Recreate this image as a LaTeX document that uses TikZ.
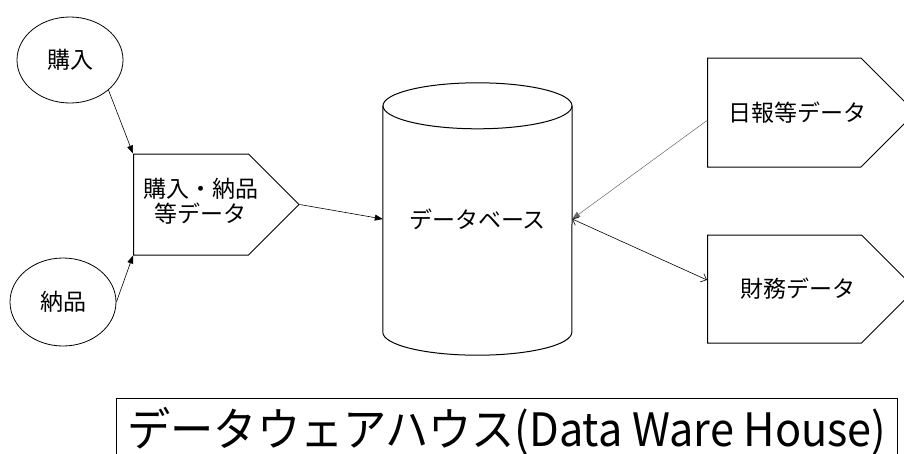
\documentclass[tikz,border=0pt]{standalone}
\usepackage{fontspec}
\setmainfont{Noto Sans CJK JP}
\usepackage{tikz}
\usetikzlibrary{arrows.meta,shapes.geometric,shapes.symbols}
% move the text right inside a signal, without changing its box
\newcommand{\pushr}[2]{\hspace*{#1}#2\hspace*{-#1}}

\tikzset{
	lbl/.style={font=\fontsize{23}{27}\selectfont},
	src/.style={ellipse, draw, line width=0.8pt, inner sep=0pt, lbl},
	datashape/.style={signal, signal to=east, draw, line width=1pt, inner sep=0pt, lbl, anchor=west},
	arr/.style={-{Triangle[length=8pt,width=6pt]}, line width=0.6pt},
	barb/.style={{Straight Barb[length=5pt,width=9pt]}-{Straight Barb[length=5pt,width=9pt]}, line width=0.6pt},
}

\begin{document}
\begin{tikzpicture}[x=1pt,y=-1pt]
	%%%%% START %%%%%
	\useasboundingbox (0,0) rectangle (904,453);
	\clip (0,0) rectangle (904,453);

	% sources
	\node[src, minimum width=106pt, minimum height=86pt] (kounyu) at (70,60) {購入};
	\node[src, minimum width=106pt, minimum height=88pt] (nouhin) at (63,302) {納品};

	% data
	\node[datashape, minimum width=164pt, minimum height=101pt] (kounou) at (133,204.5)
		{\pushr{9.5pt}{\begin{tabular}{@{}c@{}}購入・納品\\[-2pt]等データ\end{tabular}}};
	\node[datashape, minimum width=208pt, minimum height=109pt] (nippou) at (707,112.5) {\pushr{13pt}{日報等データ}};
	\node[datashape, minimum width=208pt, minimum height=108pt] (zaimu) at (707,289) {\pushr{13pt}{財務データ}};

	% database
	\node[minimum width=189pt, minimum height=272pt, inner sep=0pt, lbl] (db) at (477.5,219) {データベース};
	\draw[line width=1pt] ([yshift=-23pt]db.north) ellipse [x radius=94.5pt, y radius=23pt];
	\draw[line width=1pt] ([yshift=-23pt]db.north west) -- ([yshift=23pt]db.south west)
		arc[start angle=180, end angle=360, x radius=94.5pt, y radius=23pt] -- ([yshift=-23pt]db.north east);

	\draw[arr] (kounyu.-38) -- (kounou.north west);
	\draw[arr] (nouhin.east) -- (kounou.south west);
	\draw[arr] (kounou.east) -- (db.west);
	\draw[arr, black!60, line width=0.5pt] ([yshift=-8pt]nippou.west) -- (db.east);
	\draw[barb] (db.east) -- ([yshift=9pt]zaimu.west);

	% title
	\node[draw, line width=0.8pt, anchor=north west, inner xsep=11pt, inner ysep=9pt, font=\fontsize{46}{46}\selectfont] (dwh) at (116,398) {\scalebox{0.94}[1]{データウェアハウス(Data Ware House)}};

	%%%%% END %%%%%
\end{tikzpicture}
\end{document}
